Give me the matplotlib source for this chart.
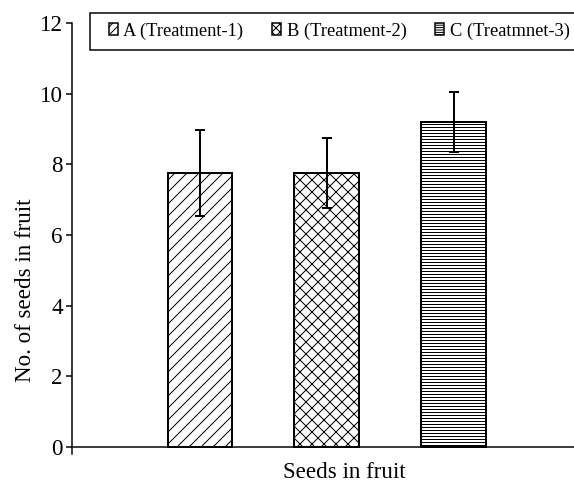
import matplotlib.pyplot as plt
from matplotlib.patches import Patch, Rectangle

plt.rcParams['font.family'] = ['Liberation Serif', 'DejaVu Serif']
plt.rcParams['hatch.linewidth'] = 1.0

treatments = ['A (Treatment-1)', 'B (Treatment-2)', 'C (Treatmnet-3)']
seeds = [7.75, 7.75, 9.2]
errors = [1.22, 1.0, 0.85]
hatches = ['//', 'xx', '----']

W, H = 574, 487
# dpi 72 so point sizes map straight onto pixels
fig = plt.figure(figsize=(W / 72, H / 72), dpi=72)
ax = fig.add_axes([72 / W, 33 / H, 1 - 72 / W, (454 - 23) / H])

xs = range(len(seeds))
for x, v, e, h in zip(xs, seeds, errors, hatches):
    ax.bar(x, v, width=0.51, color='white', edgecolor='black',
           linewidth=2, hatch=h, zorder=2)
    ax.errorbar(x, v, yerr=e, color='black', elinewidth=2, capsize=5,
                capthick=2, zorder=3)

ax.set_xlim(-1.01, 2.95)
ax.set_ylim(-0.2, 12)
ax.set_yticks(range(0, 13, 2))
ax.set_xticks([])
ax.spines['top'].set_visible(False)
ax.spines['right'].set_visible(False)
ax.spines['bottom'].set_position(('data', 0))
ax.spines['left'].set_linewidth(1.5)
ax.spines['bottom'].set_linewidth(1.5)
ax.tick_params(axis='y', direction='out', length=6, width=1.5, labelsize=23,
               pad=3)

ax.set_ylabel('No. of seeds in fruit', fontsize=23)
ax.yaxis.set_label_coords(-0.072, 0.38)
fig.text(0.6, 0.008, 'Seeds in fruit', ha='center', va='bottom', fontsize=23)

# legend box runs off the right edge
fig.add_artist(Rectangle((90 / W, 1 - 50 / H), 500 / W, 37 / H,
                         transform=fig.transFigure, facecolor='white',
                         edgecolor='black', linewidth=1.5, zorder=4))
handles = [Patch(facecolor='white', edgecolor='black', hatch=h, linewidth=1.5)
           for h in ['///', 'xxx', '-----']]
leg = fig.legend(handles, treatments, ncol=3, loc='center left',
                 bbox_to_anchor=(109 / W, 1 - 31 / H), fontsize=18.5,
                 frameon=False, handlelength=0.48, handleheight=0.65,
                 handletextpad=0.3, columnspacing=1.55, borderpad=0,
                 borderaxespad=0)
leg.set_zorder(5)

fig.savefig('out.png', dpi=72)
